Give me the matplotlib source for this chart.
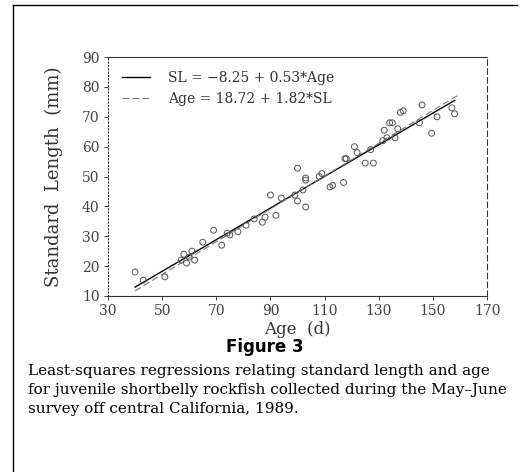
import numpy as np
import matplotlib.pyplot as plt
from matplotlib.lines import Line2D

# data
age = [40, 43, 51, 57, 58, 59, 60, 61, 62, 65, 69, 72, 74, 75, 78, 81, 84, 87, 88,
       92, 90, 94, 99, 100, 103, 102, 100, 103, 109, 108, 113, 117, 117.5, 103, 112,
       121, 122, 118, 127, 125, 128, 131.5, 133, 136, 132, 134, 135, 137, 138, 139,
       145, 146, 149.5, 151.5, 157, 158]
sl = [18, 15.3, 16.4, 22, 24, 21, 23, 25, 22, 28, 32, 27, 31, 30.4, 31.5, 33.7, 35.8,
      34.7, 36.4, 37, 43.8, 42.8, 43.8, 41.8, 39.8, 45.5, 52.8, 49.5, 51, 50, 47, 48,
      56, 48.8, 46.5, 60, 58, 56, 59, 54.5, 54.5, 62, 63, 63, 65.5, 68, 68, 66, 71.5,
      72, 68, 74, 64.5, 70, 73, 71]

# regression coefficients from the legend
sl_on_age = (-8.25, 0.53)
age_on_sl = (18.72, 1.82)
age_range = (40, 158)

xticks = [30, 50, 70, 90, 110, 130, 150, 170]
yticks = [10, 20, 30, 40, 50, 60, 70, 80, 90]

serif = 'DejaVu Serif'

fig = plt.figure(figsize=(5.2, 4.72), dpi=100)
ax = fig.add_axes([0.2077, 0.373, 0.729, 0.506])

ax.scatter(age, sl, s=18, facecolors='none', edgecolors='#555555', linewidths=0.7, zorder=3)

xs = np.array(age_range, dtype=float)
ax.plot(xs, sl_on_age[0] + sl_on_age[1] * xs, color='black', lw=1.0,
        label='SL = \u22128.25 + 0.53*Age')
xs2 = np.array([age_range[0], age_range[1] + 2], dtype=float)
ax.plot(xs2, (xs2 - age_on_sl[0]) / age_on_sl[1], color='#777777', lw=0.8,
        dashes=(6, 3), label='Age = 18.72 + 1.82*SL')

ax.set_xlim(30, 170)
ax.set_ylim(10, 90)
ax.set_xticks(xticks)
ax.set_yticks(yticks)
ax.tick_params(direction='out', length=3, width=0.6, labelsize=10, colors='#222222', pad=3)
for lbl in ax.get_xticklabels() + ax.get_yticklabels():
    lbl.set_family(serif)
    lbl.set_color('#444444')

ax.spines['left'].set_linestyle((0, (1, 2)))
ax.spines['right'].set_linestyle((0, (5, 3)))
for s in ax.spines.values():
    s.set_linewidth(0.8)
    s.set_color('#333333')

ax.set_xlabel('Age  (d)', family=serif, fontsize=12, color='#333333', labelpad=2)
ax.set_ylabel('Standard  Length  (mm)', family=serif, fontsize=13, color='#333333', labelpad=14)

ax.legend(loc='upper left', frameon=False, prop={'family': serif, 'size': 10},
          handlelength=2.0, handletextpad=1.3, borderaxespad=0.6, labelspacing=0.5,
          labelcolor='#333333')

# figure caption
fig.text(0.51, 0.265, 'Figure 3', ha='center', va='center', fontsize=12,
         fontweight='bold', family='DejaVu Sans')
caption = ('Least-squares regressions relating standard length and age\n'
           'for juvenile shortbelly rockfish collected during the May\u2013June\n'
           'survey off central California, 1989.')
fig.text(0.054, 0.229, caption, ha='left', va='top', fontsize=11, family=serif,
         linespacing=1.45)

# page frame (top and left edges)
fig.add_artist(Line2D([0.025, 0.995], [0.989, 0.989], color='black', lw=1.0,
                      transform=fig.transFigure))
fig.add_artist(Line2D([0.025, 0.025], [0.0, 0.989], color='black', lw=1.0,
                      transform=fig.transFigure))

fig.savefig('out.png', dpi=100)
